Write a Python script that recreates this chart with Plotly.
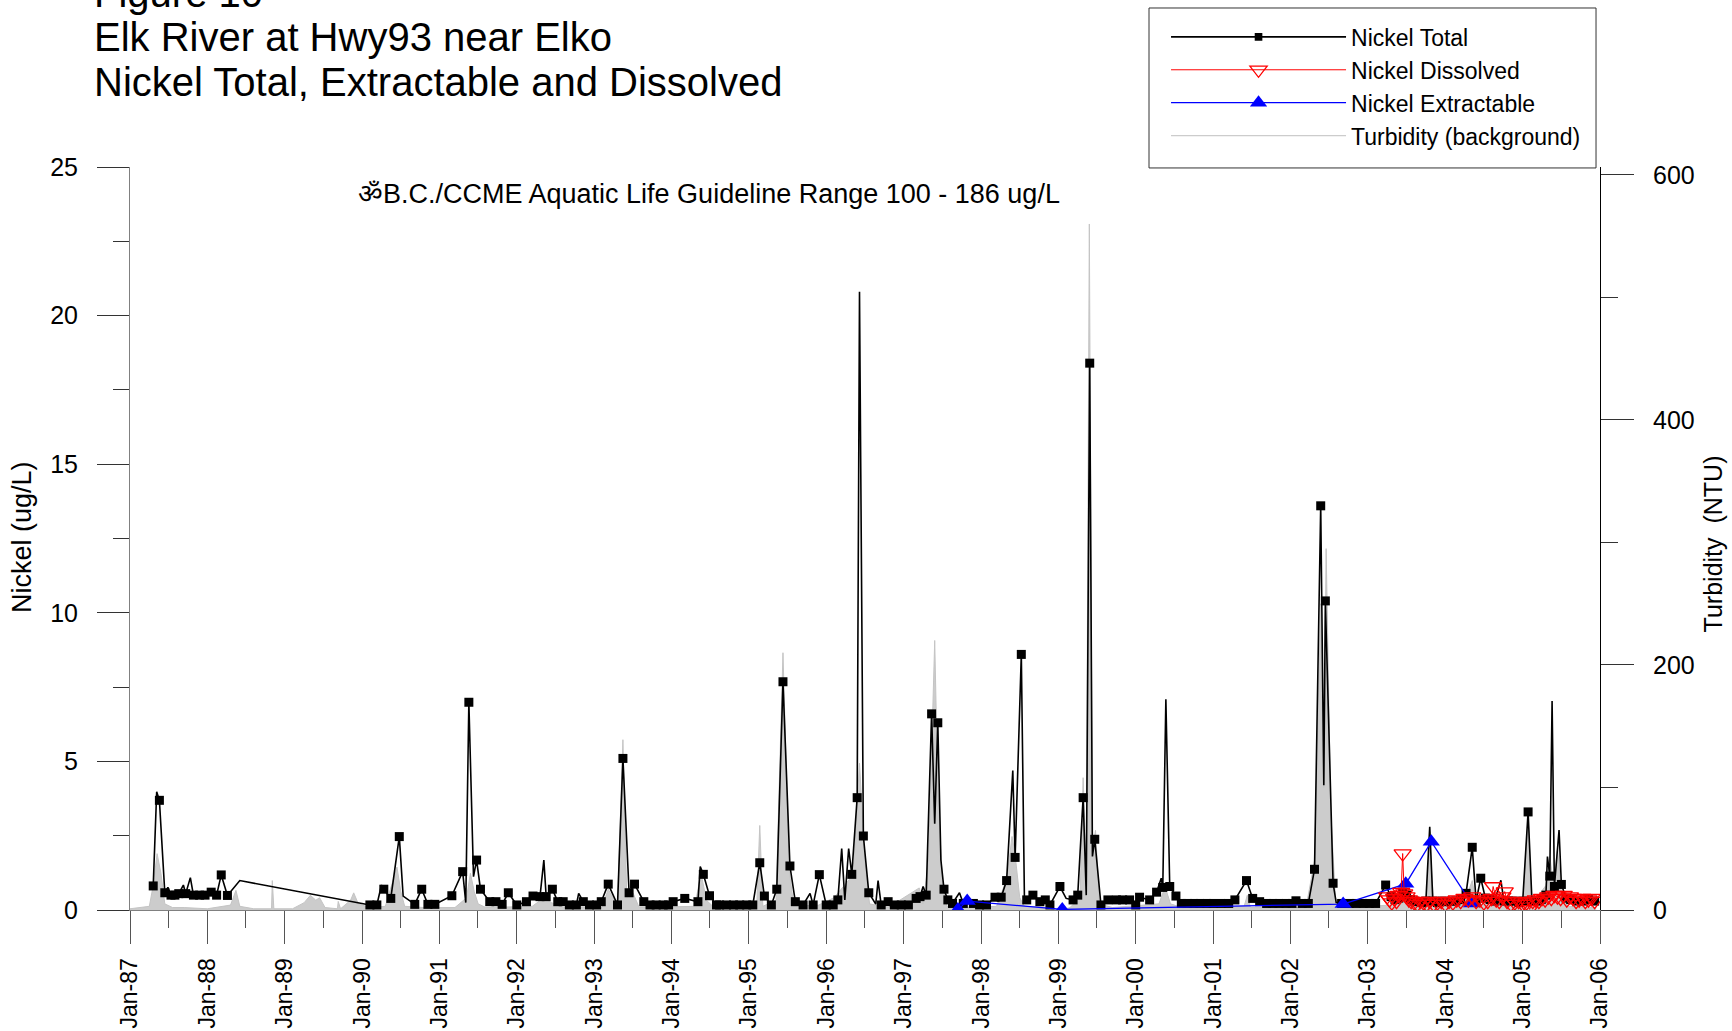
import pandas as pd
import plotly.graph_objects as go

# ---------------- data (decimal years) ----------------
total_t = [
    1987.30, 1987.345, 1987.38, 1987.45, 1987.49, 1987.53, 1987.58, 1987.63, 1987.69, 1987.72, 1987.78, 1987.82, 1987.90, 1987.97, 1988.05, 1988.12, 1988.18, 1988.26, 1988.42,
    1990.10, 1990.19, 1990.25, 1990.28, 1990.37, 1990.48, 1990.53, 1990.68, 1990.77, 1990.85, 1990.94, 1991.16, 1991.30, 1991.34, 1991.38, 1991.44, 1991.48, 1991.53, 1991.65, 1991.73, 1991.81, 1991.89, 1992.00,
    1992.125, 1992.21, 1992.30, 1992.35, 1992.38, 1992.46, 1992.53, 1992.60, 1992.68, 1992.77, 1992.80, 1992.86, 1992.94, 1993.03, 1993.09, 1993.18, 1993.30, 1993.37, 1993.45, 1993.52, 1993.64, 1993.72, 1993.80, 1993.89, 1993.96,
    1994.02, 1994.17, 1994.34, 1994.37, 1994.41, 1994.49, 1994.58, 1994.62, 1994.71, 1994.80, 1994.88, 1994.97, 1995.05, 1995.14, 1995.20, 1995.29, 1995.36, 1995.44, 1995.53, 1995.60, 1995.70, 1995.79, 1995.83, 1995.91,
    1996.00, 1996.09, 1996.15, 1996.20, 1996.24, 1996.29, 1996.33, 1996.40, 1996.43, 1996.48, 1996.55, 1996.64, 1996.67, 1996.71, 1996.80, 1996.88, 1996.97, 1997.06, 1997.16, 1997.21, 1997.25, 1997.29, 1997.36, 1997.40, 1997.44, 1997.48, 1997.52, 1997.57, 1997.63, 1997.72, 1997.77, 1997.90, 1997.98,
    1998.07, 1998.18, 1998.26, 1998.33, 1998.41, 1998.44, 1998.52, 1998.56, 1998.59, 1998.67, 1998.76, 1998.83, 1998.89, 1999.02, 1999.10, 1999.19, 1999.25, 1999.32, 1999.36, 1999.405, 1999.44, 1999.47, 1999.55, 1999.64, 1999.75, 1999.83, 1999.92,
    2000.00, 2000.05, 2000.18, 2000.27, 2000.33, 2000.35, 2000.39, 2000.44, 2000.52, 2000.59, 2000.67, 2000.75, 2000.83, 2000.92, 2001.00, 2001.10, 2001.20, 2001.28, 2001.43, 2001.51, 2001.60, 2001.69, 2001.77, 2001.85, 2001.94,
    2002.02, 2002.07, 2002.15, 2002.23, 2002.31, 2002.39, 2002.43, 2002.45, 2002.55, 2002.59, 2002.66, 2002.76, 2002.85, 2002.94, 2003.02, 2003.10, 2003.23,
    2003.30, 2003.35, 2003.40, 2003.45, 2003.50, 2003.55, 2003.60, 2003.65, 2003.70, 2003.75, 2003.80, 2003.84, 2003.90, 2003.96, 2004.02, 2004.08, 2004.14, 2004.20, 2004.27, 2004.35, 2004.40, 2004.46, 2004.52, 2004.58, 2004.64, 2004.72, 2004.76, 2004.82, 2004.88, 2004.95,
    2005.00, 2005.07, 2005.12, 2005.18, 2005.24, 2005.30, 2005.32, 2005.35, 2005.38, 2005.41, 2005.47, 2005.50, 2005.56, 2005.62, 2005.70, 2005.78, 2005.85, 2005.93,
]
total_v = [
    0.81, 3.98, 3.69, 0.58, 0.76, 0.50, 0.50, 0.55, 0.84, 0.55, 1.09, 0.50, 0.50, 0.50, 0.60, 0.50, 1.18, 0.49, 0.99,
    0.17, 0.17, 0.84, 0.70, 0.39, 2.47, 0.47, 0.19, 0.70, 0.19, 0.19, 0.48, 1.29, 0.25, 6.99, 1.12, 1.68, 0.70, 0.28, 0.28, 0.19, 0.58, 0.17,
    0.28, 0.47, 0.45, 1.68, 0.45, 0.70, 0.28, 0.28, 0.17, 0.17, 0.56, 0.28, 0.17, 0.17, 0.28, 0.87, 0.17, 5.10, 0.58, 0.87, 0.28, 0.17, 0.17, 0.17, 0.17,
    0.28, 0.39, 0.28, 1.46, 1.20, 0.48, 0.17, 0.17, 0.17, 0.17, 0.17, 0.17, 0.17, 1.59, 0.47, 0.17, 0.70, 7.68, 1.48, 0.28, 0.17, 0.56, 0.17, 1.19,
    0.17, 0.17, 0.34, 2.07, 0.34, 2.07, 1.20, 3.78, 20.8, 2.49, 0.58, 0.20, 0.99, 0.17, 0.28, 0.17, 0.17, 0.17, 0.39, 0.45, 0.79, 0.50, 6.60, 2.90, 6.30, 1.68, 0.70, 0.34, 0.22, 0.58, 0.22, 0.22, 0.17,
    0.17, 0.43, 0.43, 0.99, 4.69, 1.77, 8.60, 0.45, 0.34, 0.50, 0.28, 0.34, 0.17, 0.79, 0.39, 0.34, 0.50, 3.78, 0.50, 18.4, 1.80, 2.38, 0.17, 0.34, 0.34, 0.34, 0.34,
    0.17, 0.43, 0.34, 0.60, 1.07, 0.76, 7.09, 0.79, 0.47, 0.22, 0.22, 0.22, 0.22, 0.22, 0.22, 0.22, 0.22, 0.34, 0.99, 0.39, 0.28, 0.22, 0.22, 0.22, 0.22,
    0.22, 0.31, 0.22, 0.22, 1.37, 13.6, 4.20, 10.4, 0.90, 0.25, 0.22, 0.22, 0.22, 0.22, 0.22, 0.22, 0.84,
    0.45, 0.35, 0.40, 0.60, 0.50, 0.35, 0.30, 0.28, 0.25, 0.30, 2.80, 0.30, 0.25, 0.30, 0.28, 0.30, 0.30, 0.35, 0.56, 2.11, 0.30, 1.07, 0.40, 0.35, 0.30, 1.00, 0.30, 0.30, 0.30, 0.25,
    0.30, 3.30, 0.30, 0.30, 0.35, 0.50, 1.80, 1.14, 7.03, 0.79, 2.69, 0.86, 0.40, 0.35, 0.30, 0.30, 0.35, 0.30,
]
# samples of Nickel Total drawn without a square symbol
total_unmarked_t = [
    1987.345, 1987.49, 1987.69, 1987.78, 1988.42, 1990.25, 1990.53, 1991.34, 1991.44, 1992.35, 1992.80,
    1994.37, 1995.79, 1996.20, 1996.24, 1996.29, 1996.43, 1996.64, 1996.67, 1997.25, 1997.40, 1997.48,
    1997.72, 1998.41, 1998.56, 1999.10, 1999.36, 1999.44, 2000.33, 2000.39, 2002.43, 2002.59, 2003.80,
    2004.72, 2005.32, 2005.38, 2005.47,
]

diss_t = [
    2003.25, 2003.28, 2003.31, 2003.34, 2003.37, 2003.40, 2003.43, 2003.45, 2003.47, 2003.50,
    2003.53, 2003.56, 2003.60, 2003.64, 2003.68, 2003.72, 2003.76, 2003.80, 2003.85, 2003.90,
    2003.95, 2004.00, 2004.05, 2004.10, 2004.15, 2004.20, 2004.25, 2004.30, 2004.35, 2004.40,
    2004.45, 2004.50, 2004.55, 2004.60, 2004.62, 2004.66, 2004.70, 2004.74, 2004.77, 2004.80,
    2004.85, 2004.90, 2004.95, 2005.00, 2005.05, 2005.09, 2005.13, 2005.17, 2005.21, 2005.25,
    2005.29, 2005.33, 2005.37, 2005.41, 2005.45, 2005.49, 2005.53, 2005.57, 2005.61, 2005.65,
    2005.69, 2005.73, 2005.77, 2005.81, 2005.85, 2005.89, 2005.93,
]
diss_v = [
    0.45, 0.35, 0.25, 0.40, 0.30, 0.50, 0.60, 1.90, 0.55, 0.45,
    0.35, 0.30, 0.25, 0.20, 0.30, 0.25, 0.20, 0.30, 0.20, 0.25,
    0.30, 0.20, 0.30, 0.25, 0.35, 0.30, 0.40, 0.35, 0.45, 0.30,
    0.35, 0.25, 0.30, 0.40, 0.79, 0.35, 0.30, 0.45, 0.62, 0.30,
    0.20, 0.25, 0.30, 0.20, 0.25, 0.02, 0.30, 0.35, 0.30, 0.40,
    0.35, 0.45, 0.40, 0.50, 0.45, 0.40, 0.50, 0.35, 0.45, 0.40,
    0.30, 0.35, 0.40, 0.30, 0.35, 0.40, 0.30,
]

ext_t = [1997.70, 1997.82, 1999.05, 2002.68, 2003.49, 2003.82, 2004.34]
ext_v = [0.02, 0.30, 0.02, 0.20, 0.88, 2.30, 0.22]

turb_t = [
    1987.00, 1987.25, 1987.30, 1987.35, 1987.40, 1987.45, 1987.55, 1987.70, 1988.00, 1988.30,
    1988.37, 1988.42, 1988.60, 1988.83, 1988.84, 1988.86, 1989.10, 1989.25, 1989.33, 1989.40,
    1989.45, 1989.52, 1989.68, 1989.69, 1989.72, 1989.85, 1989.89, 1989.95, 1990.10, 1990.30,
    1990.45, 1990.50, 1990.55, 1990.80, 1991.20, 1991.35, 1991.40, 1991.45, 1991.50, 1991.60,
    1992.20, 1992.35, 1992.45, 1992.60, 1993.10, 1993.18, 1993.30, 1993.37, 1993.42, 1993.50,
    1993.58, 1994.30, 1994.38, 1994.45, 1994.55, 1995.10, 1995.14, 1995.18, 1995.35, 1995.44,
    1995.52, 1995.58, 1995.90, 1996.10, 1996.30, 1996.36, 1996.43, 1996.50, 1996.56, 1996.80,
    1997.20, 1997.25, 1997.32, 1997.37, 1997.40, 1997.44, 1997.50, 1997.56, 1997.80, 1998.20,
    1998.33, 1998.40, 1998.44, 1998.50, 1998.56, 1998.90, 1999.00, 1999.05, 1999.15, 1999.28,
    1999.32, 1999.36, 1999.40, 1999.44, 1999.48, 1999.53, 1999.70, 2000.30, 2000.38, 2000.45,
    2000.60, 2001.40, 2001.44, 2001.48, 2002.20, 2002.31, 2002.39, 2002.43, 2002.46, 2002.52,
    2002.58, 2002.65, 2003.30, 2003.45, 2003.52, 2003.58, 2003.75, 2003.80, 2003.85, 2004.20,
    2004.30, 2004.35, 2004.40, 2004.70, 2005.00, 2005.07, 2005.12, 2005.30, 2005.35, 2005.40,
    2005.45, 2005.50, 2005.58, 2005.95,
]
turb_v = [
    1, 3, 20, 46, 30, 5, 2, 2, 1, 4,
    16, 3, 1, 1, 24, 1, 1, 6, 12, 8,
    10, 2, 1, 7, 1, 8, 14, 5, 2, 3,
    35, 15, 3, 2, 2, 10, 30, 15, 5, 2,
    3, 10, 6, 2, 2, 17, 3, 139, 10, 14,
    2, 3, 30, 8, 2, 2, 69, 3, 8, 210,
    33, 3, 4, 10, 25, 40, 120, 40, 5, 2,
    18, 5, 40, 150, 220, 100, 20, 3, 2, 3,
    25, 60, 45, 10, 3, 2, 0, 0, 2, 10,
    108, 30, 560, 50, 65, 5, 2, 5, 19, 5,
    2, 3, 12, 2, 2, 40, 250, 100, 295, 80,
    10, 2, 4, 20, 24, 5, 5, 57, 5, 3,
    15, 24, 5, 3, 5, 76, 5, 20, 44, 20,
    50, 15, 3, 2,
]

year_ticks_start = "1987-01-01"
year_ticks_end = "2006-01-01"
title_lines = ["Figure 10", "Elk River at Hwy93 near Elko", "Nickel Total, Extractable and Dissolved"]
guideline_text = "\u0950B.C./CCME Aquatic Life Guideline Range 100 - 186 ug/L"
left_title = "Nickel (ug/L)"
right_title = "Turbidity  (NTU)"


def to_dates(years):
    out = []
    for y in years:
        yr = int(y)
        start = pd.Timestamp(year=yr, month=1, day=1)
        out.append(start + pd.Timedelta(days=(y - yr) * 365.25))
    return out


FONT = "Liberation Sans, Arial, sans-serif"
unmarked = {round(t, 3) for t in total_unmarked_t}
total_sizes = [0 if round(t, 3) in unmarked else 9 for t in total_t]

fig = go.Figure()

# turbidity on the primary (background) axis so it is drawn beneath the nickel series
fig.add_trace(go.Scatter(
    x=to_dates(turb_t), y=turb_v, yaxis="y", mode="lines",
    name="Turbidity (background)", showlegend=False,
    line=dict(color="#c4c4c4", width=1), fill="tozeroy", fillcolor="#cccccc",
))
fig.add_trace(go.Scatter(
    x=to_dates(total_t), y=total_v, yaxis="y2", mode="lines+markers",
    name="Nickel Total", legendrank=1,
    line=dict(color="black", width=1.6),
    marker=dict(symbol="square", size=total_sizes, color="black", opacity=1, line=dict(width=0)),
))
fig.add_trace(go.Scatter(
    x=to_dates(ext_t), y=ext_v, yaxis="y2", mode="lines+markers",
    name="Nickel Extractable", legendrank=3,
    line=dict(color="blue", width=1.3),
    marker=dict(symbol="triangle-up", size=15, color="blue"),
))
fig.add_trace(go.Scatter(
    x=to_dates(diss_t), y=diss_v, yaxis="y2", mode="lines+markers",
    name="Nickel Dissolved", legendrank=2,
    line=dict(color="red", width=1),
    marker=dict(symbol="triangle-down-open", size=15, color="red", line=dict(width=1.3)),
))
# legend entry for the turbidity background (thin light-grey line as in the key)
fig.add_trace(go.Scatter(
    x=[None], y=[None], yaxis="y", mode="lines",
    name="Turbidity (background)", legendrank=4,
    line=dict(color="#cccccc", width=1.2),
))

# title lines (top-left, first line partly cut by the page edge)
for txt, ypos in zip(title_lines, [1.2337, 1.1743, 1.1148]):
    fig.add_annotation(text=txt, xref="paper", yref="paper", x=-0.026, y=ypos,
                       xanchor="left", yanchor="middle", showarrow=False,
                       font=dict(family=FONT, size=40, color="black"))

fig.add_annotation(text=guideline_text, xref="paper", yref="paper", x=0.1535, y=0.9631,
                   xanchor="left", yanchor="middle", showarrow=False,
                   font=dict(family=FONT, size=27, color="black"))

fig.add_annotation(text=left_title, xref="paper", yref="paper", x=-0.0735, y=0.502,
                   xanchor="center", yanchor="middle", textangle=-90, showarrow=False,
                   font=dict(family=FONT, size=27, color="black"))
fig.add_annotation(text=right_title, xref="paper", yref="paper", x=1.0775, y=0.4933,
                   xanchor="center", yanchor="middle", textangle=-90, showarrow=False,
                   font=dict(family=FONT, size=25, color="black"))

# frame around the key
fig.add_shape(type="rect", xref="paper", yref="paper", x0=0.6932, x1=0.9973, y0=0.9987, y1=1.214,
              line=dict(color="#333333", width=1), fillcolor="rgba(0,0,0,0)", layer="above")

tickfont = dict(family=FONT, size=25, color="black")

fig.update_layout(
    width=1732, height=1031,
    margin=dict(l=130, r=132, t=167, b=121, pad=0),
    paper_bgcolor="white", plot_bgcolor="white",
    font=dict(family=FONT, color="black"),
    showlegend=True,
    legend=dict(x=0.9905, xanchor="right", y=1.204, yanchor="top",
                bgcolor="rgba(0,0,0,0)", borderwidth=0,
                font=dict(family=FONT, size=23, color="black"),
                itemwidth=175, tracegroupgap=0),
    xaxis=dict(
        type="date", range=[year_ticks_start, year_ticks_end], automargin=False,
        tick0=year_ticks_start, dtick="M12", tickformat="%b-%y", tickangle=-90,
        ticks="outside", ticklen=33, tickcolor="#555555", tickwidth=1,
        minor=dict(dtick="M6", ticks="outside", ticklen=17, tickcolor="#555555"),
        showline=True, linecolor="#808080", linewidth=1,
        showgrid=False, zeroline=False, tickfont=dict(family=FONT, size=23, color="black"),
        ticklabelstandoff=5,
    ),
    yaxis=dict(
        side="right", range=[0, 606.5], tick0=0, dtick=200, automargin=False,
        ticks="outside", ticklen=33, tickcolor="#333333",
        minor=dict(dtick=100, ticks="outside", ticklen=17, tickcolor="#333333"),
        showline=True, linecolor="black", linewidth=1,
        showgrid=False, zeroline=False, tickfont=tickfont,
        ticklabelstandoff=14,
    ),
    yaxis2=dict(
        overlaying="y", side="left", range=[0, 25], tick0=0, dtick=5, automargin=False,
        ticks="outside", ticklen=32, tickcolor="#333333",
        minor=dict(dtick=2.5, ticks="outside", ticklen=16, tickcolor="#333333"),
        showline=True, linecolor="#808080", linewidth=1,
        showgrid=False, zeroline=False, tickfont=tickfont,
        ticklabelstandoff=14,
    ),
)

# remove the browser's default page margin so the figure sits at the window's corner
fig.write_html("out.html", config={"displayModeBar": False},
               post_script="document.body.style.margin='0';")
